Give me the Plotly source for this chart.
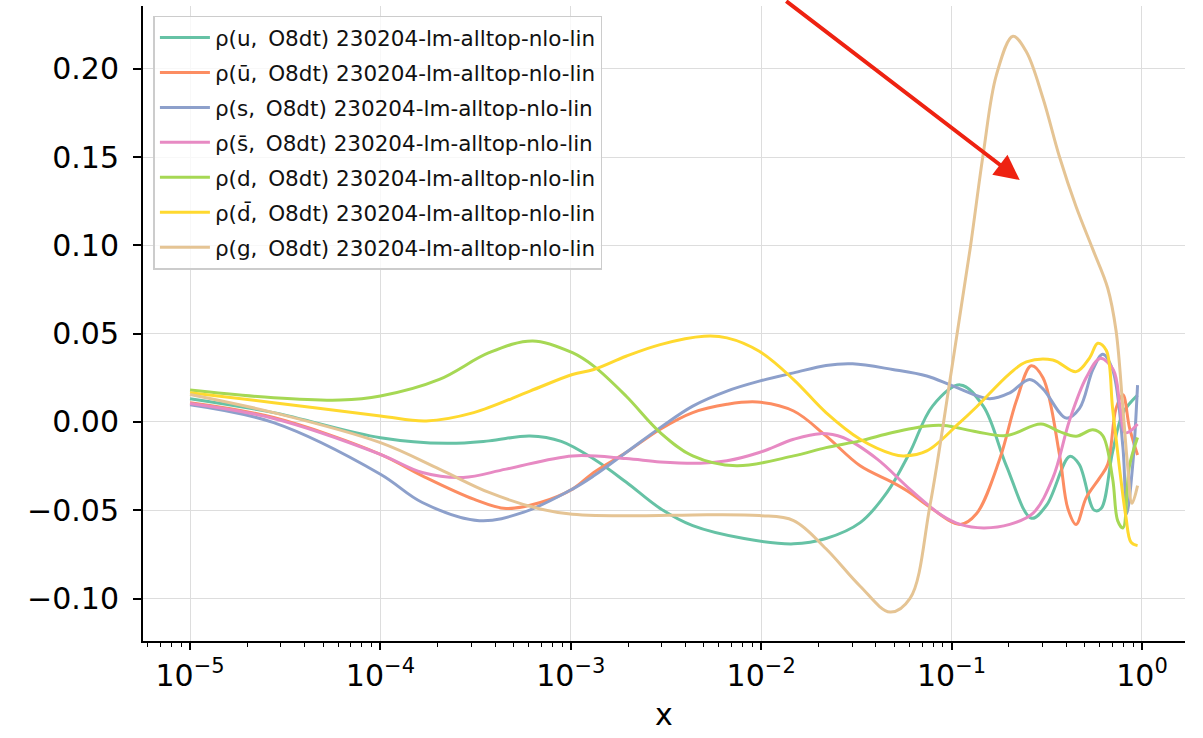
import plotly.graph_objects as go

# Correlation of each PDF flavour with the O8dt coefficient, vs momentum fraction x
u_x = [1e-5, 2.75e-5, 1e-4, 2.24e-4, 3.72e-4, 6.1e-4, 8.91e-4, 1.32e-3, 1.95e-3, 2.95e-3,
       4.37e-3, 8.13e-3, 1.48e-2, 2.19e-2, 3.31e-2, 4.57e-2, 6.03e-2, 7.94e-2, 0.111, 0.147,
       0.194, 0.263, 0.316, 0.417, 0.468, 0.562, 0.610, 0.701, 0.794, 0.948]
u_y = [0.0132, 0.0053, -0.0089, -0.0121, -0.0107, -0.0079, -0.0110, -0.021, -0.034, -0.049,
       -0.0587, -0.066, -0.069, -0.066, -0.057, -0.040, -0.0173, 0.009, 0.021, 0.0088,
       -0.0248, -0.0545, -0.047, -0.0195, -0.024, -0.050, -0.049, -0.017, 0.005, 0.0152]

ubar_x = [1e-5, 2.75e-5, 1e-4, 1.66e-4, 3.09e-4, 4.57e-4, 6.92e-4, 1.02e-3, 1.32e-3, 1.95e-3,
          2.95e-3, 4.37e-3, 6.61e-3, 9.55e-3, 1.48e-2, 2.19e-2, 3.31e-2, 4.9e-2, 6.05e-2, 7.41e-2,
          0.111, 0.135, 0.179, 0.219, 0.262, 0.302, 0.369, 0.408, 0.451, 0.509,
          0.598, 0.661, 0.731, 0.794, 0.859, 0.948]
ubar_y = [0.0109, 0.0025, -0.0183, -0.0305, -0.0437, -0.049, -0.0456, -0.038, -0.0286, -0.0173,
          -0.0041, 0.0053, 0.010, 0.0113, 0.0062, -0.0079, -0.0248, -0.0342, -0.040, -0.047,
          -0.058, -0.052, -0.021, 0.012, 0.0318, 0.025, -0.0187, -0.049, -0.058, -0.043,
          -0.0318, -0.024, 0.0077, 0.0154, -0.003, -0.0187]

s_x = [1e-5, 2.75e-5, 1e-4, 1.66e-4, 3.31e-4, 5.62e-4, 1.02e-3, 1.32e-3, 1.95e-3, 2.95e-3,
       4.37e-3, 6.61e-3, 9.77e-3, 1.48e-2, 2.19e-2, 3.02e-2, 4.9e-2, 7.41e-2, 0.102, 0.158,
       0.202, 0.257, 0.302, 0.400, 0.470, 0.552, 0.622, 0.701, 0.794, 0.832,
       0.893, 0.948]
s_y = [0.0098, -0.0004, -0.0296, -0.0456, -0.0559, -0.0512, -0.038, -0.0305, -0.0173, -0.0032,
       0.009, 0.0175, 0.0231, 0.0278, 0.032, 0.0329, 0.0297, 0.026, 0.0203, 0.0132,
       0.0165, 0.0241, 0.0187, 0.0022, 0.0077, 0.0296, 0.0384, 0.0296, -0.0143, -0.052,
       -0.025, 0.0209]

sbar_x = [1e-5, 2.75e-5, 1e-4, 1.66e-4, 2.72e-4, 4.57e-4, 1.02e-3, 1.95e-3, 2.95e-3, 4.79e-3,
          6.61e-3, 9.77e-3, 1.48e-2, 2.04e-2, 2.69e-2, 4.07e-2, 6.03e-2, 8.91e-2, 0.111, 0.147,
          0.202, 0.268, 0.340, 0.417, 0.509, 0.603, 0.708, 0.766, 0.813, 0.859,
          0.948]
sbar_y = [0.0105, 0.002, -0.0183, -0.0286, -0.0314, -0.0267, -0.0192, -0.0207, -0.0226, -0.0233,
          -0.022, -0.0173, -0.0098, -0.0066, -0.0088, -0.021, -0.038, -0.053, -0.058, -0.060,
          -0.058, -0.0516, -0.0318, 0.0011, 0.025, 0.036, 0.0295, 0.009, -0.006, -0.0055,
          -0.0011]

d_x = [1e-5, 2.75e-5, 6.17e-5, 1e-4, 2.04e-4, 3.72e-4, 6.31e-4, 1.02e-3, 1.32e-3, 1.95e-3,
       2.95e-3, 4.37e-3, 7.41e-3, 1.48e-2, 2.19e-2, 3.31e-2, 4.9e-2, 7.41e-2, 9.12e-2, 0.135,
       0.194, 0.295, 0.369, 0.451, 0.552, 0.622, 0.701, 0.746, 0.794, 0.859,
       0.948]
d_y = [0.0181, 0.0137, 0.0124, 0.0147, 0.0241, 0.0392, 0.0459, 0.0392, 0.0316, 0.0147,
       -0.006, -0.0192, -0.0248, -0.0192, -0.0145, -0.0107, -0.006, -0.0023, -0.002, -0.0055,
       -0.0077, -0.0011, -0.0055, -0.0081, -0.0044, -0.0077, -0.032, -0.056, -0.060, -0.025,
       -0.0088]

dbar_x = [1e-5, 2.75e-5, 1e-4, 1.74e-4, 3.09e-4, 6.1e-4, 1.02e-3, 1.32e-3, 1.95e-3, 2.95e-3,
          5.01e-3, 6.61e-3, 9.77e-3, 1.48e-2, 2.19e-2, 3.31e-2, 4.9e-2, 5.62e-2, 7.41e-2, 0.110,
          0.135, 0.202, 0.247, 0.340, 0.451, 0.530, 0.586, 0.649, 0.701, 0.760,
          0.824, 0.875, 0.948]
dbar_y = [0.0166, 0.0109, 0.0034, 0.0006, 0.0053, 0.0175, 0.0269, 0.0297, 0.0372, 0.0438,
          0.0485, 0.0476, 0.040, 0.024, 0.0053, -0.0098, -0.0182, -0.0192, -0.0164, -0.0005,
          0.0085, 0.0274, 0.034, 0.0351, 0.0285, 0.0362, 0.0446, 0.0406, 0.0077, -0.025,
          -0.054, -0.068, -0.070]

g_x = [1e-5, 2.75e-5, 1e-4, 2.04e-4, 3.72e-4, 6.92e-4, 1.02e-3, 2.29e-3, 4.37e-3, 9.77e-3,
       1.48e-2, 2.19e-2, 3.31e-2, 4.75e-2, 6.05e-2, 7.71e-2, 0.100, 0.125, 0.147, 0.172,
       0.210, 0.247, 0.302, 0.369, 0.451, 0.552, 0.661, 0.731, 0.794, 0.841,
       0.887, 0.948]
g_y = [0.0156, 0.0053, -0.0117, -0.0267, -0.0399, -0.0493, -0.0522, -0.0531, -0.0526, -0.053,
       -0.0558, -0.0718, -0.093, -0.1076, -0.0999, -0.047, 0.0296, 0.0977, 0.1526, 0.1965,
       0.2184, 0.2096, 0.1833, 0.150, 0.1218, 0.0977, 0.0757, 0.0516, 0.0077, -0.025,
       -0.046, -0.036]

labels = [
    "ρ(u,\u2002O8dt) 230204-lm-alltop-nlo-lin",
    "ρ(ū,\u2002O8dt) 230204-lm-alltop-nlo-lin",
    "ρ(s,\u2002O8dt) 230204-lm-alltop-nlo-lin",
    "ρ(s\u0304,\u2002O8dt) 230204-lm-alltop-nlo-lin",
    "ρ(d,\u2002O8dt) 230204-lm-alltop-nlo-lin",
    "ρ(d\u0304,\u2002O8dt) 230204-lm-alltop-nlo-lin",
    "ρ(g,\u2002O8dt) 230204-lm-alltop-nlo-lin",
]
series = [(u_x, u_y), (ubar_x, ubar_y), (s_x, s_y), (sbar_x, sbar_y),
          (d_x, d_y), (dbar_x, dbar_y), (g_x, g_y)]
colors = ["#66c2a5", "#fc8d62", "#8da0cb", "#e78ac3", "#a6d854", "#ffd92f", "#e5c494"]

x_tickvals = [1e-5, 1e-4, 1e-3, 1e-2, 1e-1, 1e0]
x_ticktext = ["10<sup>\u22125</sup>", "10<sup>\u22124</sup>", "10<sup>\u22123</sup>",
              "10<sup>\u22122</sup>", "10<sup>\u22121</sup>", "10<sup>0</sup>"]

minor_vals = [m * 10.0 ** e for e in range(-6, 1) for m in range(2, 10)]

FONT = "DejaVu Sans"

fig = go.Figure()
for (xs, ys), name, col in zip(series, labels, colors):
    fig.add_trace(go.Scatter(
        x=xs, y=ys, mode="lines", name=name, legendgroup=name,
        line=dict(color=col, width=3, shape="spline", smoothing=1.0),
    ))

fig.add_annotation(
    x=-0.642, y=0.137, xref="x", yref="y", text="",
    showarrow=True, arrowhead=2, arrowsize=1.25, arrowwidth=4, arrowcolor="#ee2211",
    ax=-235, ay=-184, axref="pixel", ayref="pixel",
)

fig.update_layout(
    width=1203, height=738,
    margin=dict(l=143, r=18, t=6, b=97),
    paper_bgcolor="white", plot_bgcolor="white",
    font=dict(family=FONT, color="black"),
    showlegend=True,
    legend=dict(
        x=0.01, y=0.985, xanchor="left", yanchor="top",
        bgcolor="rgba(255,255,255,0.8)", bordercolor="#cccccc", borderwidth=1.5,
        font=dict(family=FONT, size=21.5, color="#111111"),
        tracegroupgap=4, itemwidth=50,
    ),
)

fig.update_xaxes(
    type="log", range=[-5.247, 0.226],
    tickmode="array", tickvals=x_tickvals, ticktext=x_ticktext,
    ticks="outside", ticklen=7, tickwidth=1.5, tickcolor="black",
    showline=True, linecolor="black", linewidth=2, mirror=False,
    showgrid=True, gridcolor="#dddddd", gridwidth=1, zeroline=False,
    tickfont=dict(family=FONT, size=30, color="black"),
    title=dict(text="x", font=dict(family=FONT, size=30, color="black"), standoff=12),
    minor=dict(tickmode="array", tickvals=minor_vals, ticks="outside", ticklen=4,
               tickwidth=1, tickcolor="black", showgrid=False),
)
fig.update_yaxes(
    range=[-0.124, 0.2355], dtick=0.05, tick0=0, tickformat=".2f",
    ticks="outside", ticklen=8, tickwidth=1.5, tickcolor="black",
    showline=True, linecolor="black", linewidth=2, mirror=False,
    showgrid=True, gridcolor="#dddddd", gridwidth=1, zeroline=False,
    tickfont=dict(family=FONT, size=30, color="black"),
    ticklabelstandoff=8,
)

fig.write_html("out.html")
